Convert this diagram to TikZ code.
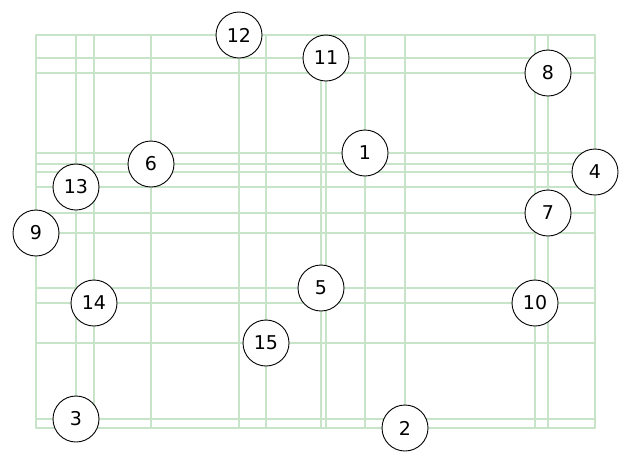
\documentclass[tikz,border=0pt]{standalone}
\usepackage{fontspec}
\setmainfont{DejaVu Sans}
\definecolor{gridgreen}{RGB}{200,228,200}

\begin{document}
\begin{tikzpicture}[x=1pt,y=-1pt,line cap=round,line join=round,
    vertex/.style={circle,draw=black,line width=0.9pt,fill=white,
      minimum size=46pt,inner sep=0pt,font=\fontsize{19}{19}\selectfont},
    gridline/.style={draw=gridgreen,line width=1.4pt}]
  \useasboundingbox (0,0) rectangle (623,451);
  \coordinate (c1) at (365,153);
  \coordinate (c2) at (405,428);
  \coordinate (c3) at (76,419);
  \coordinate (c4) at (595,172);
  \coordinate (c5) at (321,288);
  \coordinate (c6) at (151,164);
  \coordinate (c7) at (548,213);
  \coordinate (c8) at (548,73);
  \coordinate (c9) at (36,233);
  \coordinate (c10) at (535,303);
  \coordinate (c11) at (326,58);
  \coordinate (c12) at (239,35);
  \coordinate (c13) at (76,187);
  \coordinate (c14) at (94,303);
  \coordinate (c15) at (266,343);
  % vertical lines, top to bottom
  \foreach \n in {1,...,15}
    \draw[gridline] (c\n |- c12) -- (c\n |- c2);
  % horizontal lines, left to right
  \foreach \n in {1,...,15}
    \draw[gridline] (c9 |- c\n) -- (c4 |- c\n);
  \foreach \n in {1,...,15}
    \node[vertex] (v\n) at (c\n) {\n};
\end{tikzpicture}
\end{document}
